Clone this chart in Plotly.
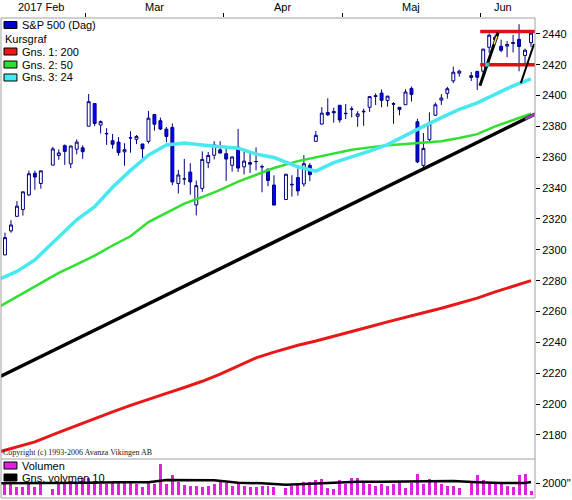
import numpy as np
import plotly.graph_objects as go

# S&P 500 daily candles, Feb 8 - Jun 13 2017
dates = [
    "2017-02-08", "2017-02-09", "2017-02-10", "2017-02-13", "2017-02-14", "2017-02-15",
    "2017-02-16", "2017-02-17", "2017-02-21", "2017-02-22", "2017-02-23", "2017-02-24",
    "2017-02-27", "2017-02-28",
    "2017-03-01", "2017-03-02", "2017-03-03", "2017-03-06", "2017-03-07", "2017-03-08",
    "2017-03-09", "2017-03-10", "2017-03-13", "2017-03-14", "2017-03-15", "2017-03-16",
    "2017-03-17", "2017-03-20", "2017-03-21", "2017-03-22", "2017-03-23", "2017-03-24",
    "2017-03-27", "2017-03-28", "2017-03-29", "2017-03-30", "2017-03-31",
    "2017-04-03", "2017-04-04", "2017-04-05", "2017-04-06", "2017-04-07", "2017-04-10",
    "2017-04-11", "2017-04-12", "2017-04-13", "2017-04-17", "2017-04-18", "2017-04-19",
    "2017-04-20", "2017-04-21", "2017-04-24", "2017-04-25", "2017-04-26", "2017-04-27",
    "2017-04-28",
    "2017-05-01", "2017-05-02", "2017-05-03", "2017-05-04", "2017-05-05", "2017-05-08",
    "2017-05-09", "2017-05-10", "2017-05-11", "2017-05-12", "2017-05-15", "2017-05-16",
    "2017-05-17", "2017-05-18", "2017-05-19", "2017-05-22", "2017-05-23", "2017-05-24",
    "2017-05-25", "2017-05-26", "2017-05-30", "2017-05-31",
    "2017-06-01", "2017-06-02", "2017-06-05", "2017-06-06", "2017-06-07", "2017-06-08",
    "2017-06-09", "2017-06-12", "2017-06-13",
]
opens = [
    2289.6, 2296.7, 2312.3, 2321.7, 2326.1, 2335.6, 2349.6, 2343.0, 2354.9, 2361.1,
    2367.5, 2355.7, 2365.2, 2366.1,
    2380.1, 2394.8, 2380.9, 2375.2, 2370.7, 2369.8, 2363.5, 2372.5, 2371.6, 2368.6,
    2370.3, 2387.7, 2383.7, 2378.2, 2379.3, 2343.0, 2346.0, 2350.4, 2329.1, 2339.8,
    2356.5, 2361.3, 2364.8,
    2362.3, 2354.8, 2366.6, 2353.8, 2356.6, 2357.2, 2353.9, 2352.2, 2342.0, 2332.6,
    2342.5, 2346.8, 2342.7, 2354.7, 2370.3, 2381.5, 2389.0, 2389.7, 2393.7,
    2388.5, 2391.1, 2386.5, 2389.8, 2392.4, 2399.9, 2401.6, 2396.8, 2394.8, 2392.4,
    2394.0, 2404.6, 2383.0, 2354.7, 2371.4, 2387.2, 2397.0, 2401.4, 2409.5, 2414.5,
    2411.7, 2415.6,
    2415.7, 2431.3, 2437.8, 2431.9, 2432.0, 2434.3, 2436.4, 2425.9, 2434.2,
]
highs = [
    2295.9, 2311.1, 2319.2, 2331.6, 2337.6, 2351.3, 2351.3, 2351.2, 2366.7, 2365.1,
    2368.3, 2367.3, 2371.5, 2367.8,
    2401.0, 2394.8, 2383.9, 2378.8, 2375.1, 2373.1, 2369.1, 2376.9, 2374.4, 2368.6,
    2390.0, 2388.1, 2385.7, 2379.6, 2381.9, 2351.8, 2358.9, 2356.2, 2344.9, 2363.8,
    2363.4, 2370.4, 2370.4,
    2365.9, 2360.5, 2378.4, 2364.2, 2363.8, 2366.4, 2355.2, 2352.7, 2348.3, 2349.1,
    2348.4, 2352.6, 2361.4, 2356.2, 2377.0, 2392.5, 2398.2, 2392.1, 2393.7,
    2394.5, 2392.9, 2389.8, 2391.4, 2399.3, 2401.4, 2403.9, 2399.7, 2395.7, 2392.4,
    2404.1, 2405.8, 2384.9, 2375.7, 2389.1, 2395.5, 2400.9, 2405.6, 2418.7, 2416.7,
    2415.3, 2416.0,
    2430.1, 2440.2, 2439.6, 2436.2, 2435.3, 2439.3, 2446.2, 2430.4, 2441.5,
]
lows = [
    2285.4, 2296.6, 2311.1, 2321.4, 2322.2, 2334.8, 2338.9, 2339.6, 2354.9, 2358.3,
    2355.1, 2352.9, 2361.9, 2359.0,
    2380.1, 2380.2, 2375.4, 2368.0, 2365.5, 2361.0, 2354.5, 2363.0, 2368.5, 2358.2,
    2368.9, 2377.2, 2377.6, 2369.7, 2341.9, 2336.5, 2342.1, 2335.7, 2322.3, 2337.6,
    2352.9, 2358.6, 2362.6,
    2344.7, 2350.7, 2350.5, 2348.9, 2349.8, 2351.5, 2337.3, 2341.2, 2329.0, 2332.5,
    2334.5, 2335.1, 2340.9, 2344.5, 2370.3, 2381.2, 2386.8, 2382.4, 2382.4,
    2384.8, 2385.8, 2379.8, 2380.4, 2389.4, 2393.9, 2392.4, 2392.8, 2381.7, 2387.2,
    2393.9, 2396.1, 2356.2, 2352.7, 2370.4, 2386.9, 2393.9, 2398.0, 2408.0, 2412.2,
    2409.4, 2403.6,
    2413.5, 2427.7, 2434.3, 2428.1, 2424.8, 2427.9, 2415.7, 2420.0, 2431.3,
]
closes = [
    2294.7, 2307.9, 2316.1, 2328.3, 2337.6, 2349.3, 2347.2, 2351.2, 2365.4, 2362.8,
    2363.8, 2367.3, 2369.8, 2363.6,
    2396.0, 2381.9, 2383.1, 2375.3, 2368.4, 2363.0, 2364.9, 2372.6, 2373.5, 2365.5,
    2385.3, 2381.4, 2378.3, 2373.5, 2344.0, 2348.5, 2346.0, 2344.0, 2341.6, 2358.6,
    2361.1, 2368.1, 2362.7,
    2358.8, 2360.2, 2353.0, 2357.5, 2355.5, 2357.2, 2353.8, 2344.9, 2329.0, 2349.0,
    2342.2, 2338.2, 2355.8, 2348.7, 2374.2, 2388.6, 2387.5, 2388.8, 2384.2,
    2388.3, 2391.2, 2388.1, 2389.5, 2399.3, 2399.4, 2396.9, 2399.6, 2394.4, 2390.9,
    2402.3, 2400.7, 2357.0, 2365.7, 2381.7, 2394.0, 2398.4, 2404.4, 2415.1, 2415.8,
    2412.9, 2411.8,
    2430.1, 2439.1, 2436.1, 2429.3, 2433.1, 2433.8, 2431.8, 2429.4, 2440.4,
]
volumes = [  # millions
    2180, 2180, 2180, 1400, 1400, 1820, 1400, 2180, 930, 1820, 2180, 2410, 2180, 2890,
    2890, 2180, 1820, 1820, 2180, 2180, 2180, 2180, 1820, 1400, 2180, 1820, 5450, 1820,
    3480, 2180, 1700, 1580, 1580, 1400, 1580, 1820, 2180,
    2000, 1580, 2180, 1580, 1400, 1400, 1580, 1580, 1400, 1100, 1580, 1820, 2180, 2180,
    2600, 2800, 1100, 930, 2600,
    1820, 2890, 2890, 2180, 1820, 1580, 1820, 1580, 1820, 2180, 1100, 2000, 3600, 1820,
    2800, 2600, 1820, 1580, 1580, 1100, 2000, 3480,
    2600, 2180, 2180, 1820, 1580, 1400, 3480, 3600, 600,
]

# moving averages
ma_dates = [
    "2017-02-08", "2017-02-13", "2017-02-16", "2017-02-22", "2017-02-27", "2017-03-02",
    "2017-03-07", "2017-03-10", "2017-03-15", "2017-03-20", "2017-03-23", "2017-03-28",
    "2017-03-31", "2017-04-05", "2017-04-10", "2017-04-13", "2017-04-19", "2017-04-24",
    "2017-04-27", "2017-05-02", "2017-05-05", "2017-05-10", "2017-05-15", "2017-05-18",
    "2017-05-23", "2017-05-26", "2017-05-31", "2017-06-05", "2017-06-08", "2017-06-13",
]
ma200 = [
    2169.0, 2172.3, 2175.5, 2181.7, 2186.3, 2190.6, 2195.0, 2199.2, 2203.3, 2207.0,
    2210.8, 2214.8, 2219.5, 2224.8, 2230.0, 2233.7, 2238.2, 2240.9, 2243.8, 2246.9,
    2250.1, 2253.3, 2256.4, 2259.2, 2262.1, 2265.2, 2268.7, 2272.8, 2276.6, 2280.0,
]
ma50 = [
    2263.0, 2269.7, 2276.5, 2285.0, 2290.5, 2296.2, 2302.8, 2308.8, 2318.0, 2324.2,
    2330.0, 2334.2, 2338.8, 2344.2, 2348.5, 2353.0, 2357.5, 2360.0, 2362.6, 2364.8,
    2366.4, 2367.8, 2368.6, 2369.3, 2370.4, 2372.5, 2375.0, 2380.0, 2384.0, 2388.2,
]
ma24 = [
    2281.0, 2286.0, 2293.5, 2308.5, 2319.5, 2328.0, 2340.5, 2351.5, 2361.3, 2368.0,
    2369.3, 2368.0, 2367.2, 2365.9, 2362.0, 2359.8, 2353.8, 2351.0, 2356.5, 2360.0,
    2364.0, 2368.2, 2373.8, 2380.0, 2385.7, 2391.0, 2395.3, 2401.0, 2406.3, 2410.8,
]
vol_ma_dates = [
    "2017-02-08", "2017-02-15", "2017-02-22", "2017-03-01", "2017-03-08", "2017-03-15",
    "2017-03-20", "2017-03-24", "2017-03-30", "2017-04-05", "2017-04-11", "2017-04-17",
    "2017-04-21", "2017-04-27", "2017-05-03", "2017-05-09", "2017-05-15", "2017-05-19",
    "2017-05-25", "2017-05-31", "2017-06-06", "2017-06-12", "2017-06-13",
]
vol_ma10 = [
    2000, 2000, 2050, 2100, 2180, 2200, 2590, 2590, 2550, 2100, 2000, 1750,
    1900, 2100, 2290, 2290, 2300, 2410, 2400, 2200, 2050, 2050, 2250,
]

# drawn trend line and flag channel (x in weekdays from start)
trend_x = [0.0, 89.7]
trend_y = [2217.5, 2388.0]
flag_x = [[80.45, 83.5], [87.3, 89.5]]
flag_y = [[2406.4, 2440.8], [2408.0, 2433.4]]
levels = [2441.5, 2420.0]
level_from = "2017-06-01"

months = ["2017 Feb", "Mar", "Apr", "Maj", "Jun"]
price_ticks = list(range(2180, 2441, 20))

start = dates[0]


def wd(d):
    return int(np.busday_count(start, d))


x = [wd(d) for d in dates]
ma_x = [wd(d) for d in ma_dates]
vma_x = [wd(d) for d in vol_ma_dates]

# month boundaries / label centres
month_ids = [d[:7] for d in dates]
first_k, last_k = {}, {}
for m, k in zip(month_ids, x):
    first_k.setdefault(m, k)
    last_k[m] = k
mkeys = list(first_k)
bounds = [first_k[m] - 0.5 for m in mkeys[1:]]
centres = [(first_k[m] + last_k[m]) / 2 for m in mkeys]

W, H = 572, 500
ML, MR, MT, MB = 1, 35, 18, 2
PW, PH = W - ML - MR, H - MT - MB
VOL_PX = 39
split = VOL_PX / PH


def px(v):
    return (v - ML) / PW


def py(v):
    return (H - MB - v) / PH


FONT = "Liberation Sans, Arial, sans-serif"

fig = go.Figure()

fig.add_trace(go.Candlestick(
    x=x, open=opens, high=highs, low=lows, close=closes,
    increasing=dict(line=dict(color="#000080", width=1), fillcolor="#ffffff"),
    decreasing=dict(line=dict(color="#000080", width=1), fillcolor="#0000ff"),
    whiskerwidth=0, showlegend=False, hoverinfo="skip",
))
fig.add_trace(go.Scatter(x=ma_x, y=ma200, mode="lines",
                         line=dict(color="#e81818", width=3), hoverinfo="skip"))
fig.add_trace(go.Scatter(x=ma_x, y=ma50, mode="lines",
                         line=dict(color="#30e030", width=2.5), hoverinfo="skip"))
fig.add_trace(go.Scatter(x=trend_x, y=trend_y, mode="lines",
                         line=dict(color="#000000", width=3.5), hoverinfo="skip"))
# purple tip where the trend line meets the 50-day average
fig.add_trace(go.Scatter(x=[88.0, trend_x[1]],
                         y=[trend_y[0] + (trend_y[1] - trend_y[0]) * 88.0 / trend_x[1],
                            trend_y[1]],
                         mode="lines", line=dict(color="#9a3cb8", width=3),
                         hoverinfo="skip"))
fig.add_trace(go.Scatter(x=ma_x, y=ma24, mode="lines",
                         line=dict(color="#48e8f0", width=3.5), hoverinfo="skip"))

lx0 = wd(level_from) - 0.5
for lv in levels:
    fig.add_trace(go.Scatter(x=[lx0, 90.5], y=[lv, lv], mode="lines",
                             line=dict(color="#e01010", width=3.5), hoverinfo="skip"))
for fx, fy, w in zip(flag_x, flag_y, [3, 2]):
    fig.add_trace(go.Scatter(x=fx, y=fy, mode="lines",
                             line=dict(color="#000000", width=w), hoverinfo="skip"))
# small handle marks on the first flag line
fx, fy = flag_x[0], flag_y[0]
t_lo, t_hi = 0.78, 0.93
fig.add_trace(go.Scatter(x=[fx[0] + (fx[1] - fx[0]) * t_lo, fx[0] + (fx[1] - fx[0]) * t_hi],
                         y=[fy[0] + (fy[1] - fy[0]) * t_lo, fy[0] + (fy[1] - fy[0]) * t_hi],
                         mode="lines", line=dict(color="#f0e040", width=1.5),
                         hoverinfo="skip"))
t_mid = (levels[1] - fy[0]) / (fy[1] - fy[0])
fig.add_trace(go.Scatter(x=[fx[0] + (fx[1] - fx[0]) * t_mid], y=[levels[1]],
                         mode="markers",
                         marker=dict(color="#40c8c0", size=4, symbol="square"),
                         hoverinfo="skip"))

fig.add_trace(go.Bar(x=x, y=volumes, yaxis="y2", width=0.5,
                     marker=dict(color="#e020e0", line=dict(width=0)),
                     hoverinfo="skip"))
fig.add_trace(go.Scatter(x=vma_x, y=vol_ma10, yaxis="y2", mode="lines",
                         line=dict(color="#000000", width=2.5), hoverinfo="skip"))

fig.update_layout(
    width=W, height=H,
    margin=dict(l=ML, r=MR, t=MT, b=MB, pad=0),
    paper_bgcolor="white", plot_bgcolor="white",
    showlegend=False, hovermode=False,
    font=dict(family=FONT, size=11, color="black"),
    xaxis=dict(range=[1 / 3, 1 / 3 + PW / 6.0], side="top", showgrid=False,
               zeroline=False, showline=False, tickmode="array", tickvals=bounds,
               ticktext=[""] * len(bounds), ticks="outside", ticklen=4,
               tickcolor="black", rangeslider=dict(visible=False), fixedrange=True),
    yaxis=dict(domain=[split, 1], range=[2164.44, 2450.24], side="right",
               showgrid=False, zeroline=False, tickmode="array", tickvals=price_ticks,
               ticks="outside", ticklen=4, tickcolor="black",
               tickfont=dict(size=11, family=FONT), fixedrange=True),
    yaxis2=dict(domain=[0, split], range=[-625, 6340], side="right", anchor="x",
                showgrid=False, zeroline=False, tickmode="array", tickvals=[2000],
                ticktext=['2000"'], ticks="outside", ticklen=4, tickcolor="black",
                tickfont=dict(size=11, family=FONT), fixedrange=True),
    bargap=0,
)

shapes = [
    dict(type="rect", xref="paper", yref="paper", x0=0, x1=1, y0=0, y1=1,
         line=dict(color="#a0a0a0", width=1)),
    dict(type="line", xref="paper", yref="paper", x0=0, x1=1, y0=split, y1=split,
         line=dict(color="#a0a0a0", width=1)),
]
annotations = []

# month labels above the plot
for i, (name, c) in enumerate(zip(months, centres)):
    annotations.append(dict(x=c, y=py(7), xref="x", yref="paper", text=name,
                            showarrow=False, xanchor="center", yanchor="middle",
                            xshift=-4 if i == len(months) - 1 else 0,
                            font=dict(size=11, family=FONT)))

# legends
legend_rows = [
    (25.0, "#0000d0", "S&P 500 (Dag)"),
    (38.5, None, "Kursgraf"),
    (51.5, "#e81818", "Gns. 1: 200"),
    (64.5, "#30e030", "Gns. 2: 50"),
    (77.5, "#48e8f0", "Gns. 3: 24"),
    (465.5, "#e020e0", "Volumen"),
    (477.5, "#000000", "Gns. volymen 10"),
]
for yc, col, txt in legend_rows:
    if col:
        shapes.append(dict(type="rect", xref="paper", yref="paper",
                           x0=px(4), x1=px(17), y0=py(yc + 3.5), y1=py(yc - 3.5),
                           fillcolor=col, line=dict(color="black", width=1),
                           layer="above"))
        tx = 20
    else:
        tx = 3
    annotations.append(dict(x=px(tx), y=py(yc), xref="paper", yref="paper",
                            text=txt, showarrow=False, xanchor="left",
                            yanchor="middle", font=dict(size=11, family=FONT)))

annotations.append(dict(x=px(1), y=py(452), xref="paper", yref="paper",
                        text="Copyright (c) 1993-2006 Avanza Vikingen AB",
                        showarrow=False, xanchor="left", yanchor="middle",
                        font=dict(size=8, family="Liberation Serif, serif",
                                  color="#202020")))

fig.update_layout(shapes=shapes, annotations=annotations)

fig.write_html("out.html", config={"displayModeBar": False},
               post_script="document.body.style.margin='0px';")
